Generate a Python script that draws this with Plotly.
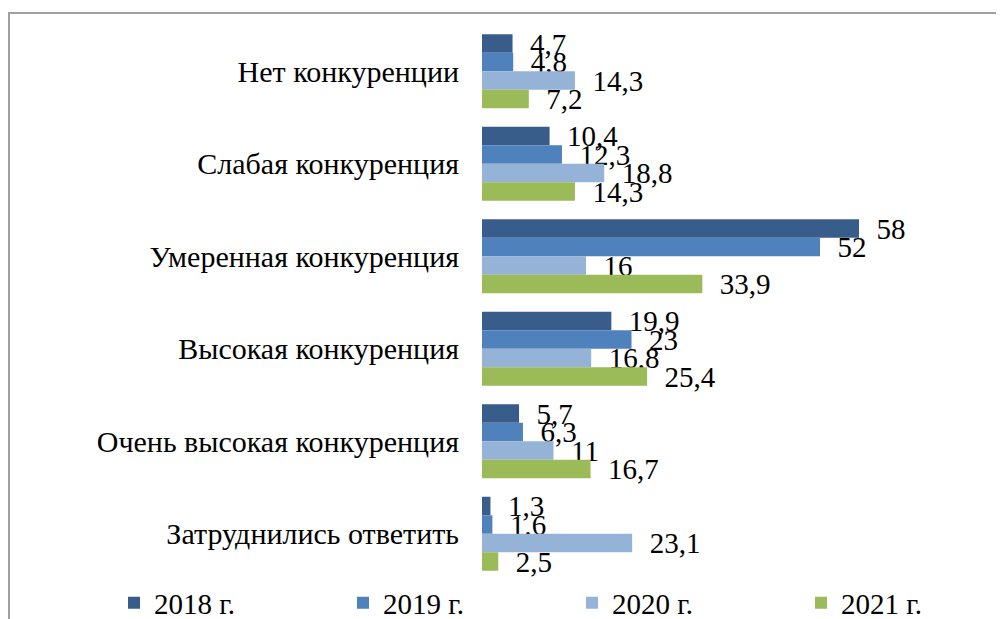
import plotly.graph_objects as go

categories = ["Нет конкуренции", "Слабая конкуренция", "Умеренная конкуренция",
              "Высокая конкуренция", "Очень высокая конкуренция", "Затруднились ответить"]
years = ["2018 г.", "2019 г.", "2020 г.", "2021 г."]
v2018 = [4.7, 10.4, 58, 19.9, 5.7, 1.3]
v2019 = [4.8, 12.3, 52, 23, 6.3, 1.6]
v2020 = [14.3, 18.8, 16, 16.8, 11, 23.1]
v2021 = [7.2, 14.3, 33.9, 25.4, 16.7, 2.5]
series = [v2018, v2019, v2020, v2021]
colors = ["#385D8A", "#4F81BD", "#95B3D7", "#9BBB59"]

OFF = 8  # default page body margin
W, H = 1004 - OFF, 619 - OFF
ml, mt = 482 - OFF, 25 - OFF
mr, mb = W - (ml + 520), H - (580 - OFF)
pw, ph = W - ml - mr, H - mt - mb

FONT = "Liberation Serif"

fig = go.Figure()
for name, vals, col in zip(years, series, colors):
    fig.add_trace(go.Bar(
        y=categories, x=vals, name=name, orientation="h",
        marker=dict(color=col, line=dict(width=0)),
        text=["\u00a0\u00a0" + f"{v:g}".replace(".", ",") for v in vals],
        textposition="outside", constraintext="none", cliponaxis=False,
        textfont=dict(family=FONT, size=29, color="black"),
    ))

def px_x(p):
    return (p - OFF - ml) / pw

def px_y(p):
    return 1 - (p - OFF - mt) / ph

fig.update_layout(
    width=W, height=H,
    margin=dict(l=ml, r=mr, t=mt, b=mb, autoexpand=False),
    barmode="group", bargap=0.2, bargroupgap=0,
    plot_bgcolor="white", paper_bgcolor="white",
    font=dict(family=FONT, size=29, color="black"),
    xaxis=dict(range=[0, 80], visible=False, showgrid=False, zeroline=False),
    yaxis=dict(autorange="reversed", showgrid=False, zeroline=False, showline=False,
               ticks="", ticklabelstandoff=22, automargin=False,
               tickfont=dict(family=FONT, size=30, color="black")),
    legend=dict(orientation="h", x=px_x(114), xanchor="left",
                y=px_y(603), yanchor="middle",
                entrywidth=184, entrywidthmode="pixels",
                font=dict(family=FONT, size=29, color="black"),
                itemclick=False),
    showlegend=True,
    shapes=[
        dict(type="line", xref="paper", yref="paper",
             x0=px_x(8), x1=px_x(1010), y0=px_y(13), y1=px_y(13),
             line=dict(color="#A0A0A0", width=2)),
        dict(type="line", xref="paper", yref="paper",
             x0=px_x(9), x1=px_x(9), y0=px_y(13), y1=px_y(630),
             line=dict(color="#A0A0A0", width=2)),
    ],
)

fig.write_html("out.html")
